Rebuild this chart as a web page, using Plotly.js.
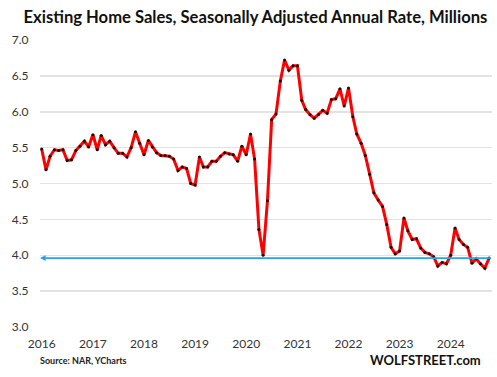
<!DOCTYPE html>
<html>
<head>
<meta charset="utf-8">
<script src="https://cdn.plot.ly/plotly-3.0.1.min.js"></script>
<style>html,body{margin:0;padding:0;background:#fff;}#chart{width:497px;height:377px;}</style>
</head>
<body>
<div id="chart"></div>
<script>
// Existing home sales, SAAR, millions (Jan 2016 - Oct 2024)
var startYear = 2016;
var sales2016 = [5.48, 5.19, 5.38, 5.47, 5.46, 5.47, 5.32, 5.33, 5.46, 5.52, 5.59, 5.51];
var sales2017 = [5.68, 5.47, 5.67, 5.54, 5.59, 5.50, 5.42, 5.42, 5.37, 5.50, 5.72, 5.56];
var sales2018 = [5.40, 5.60, 5.51, 5.43, 5.39, 5.39, 5.38, 5.34, 5.18, 5.23, 5.21, 5.00];
var sales2019 = [4.98, 5.37, 5.23, 5.23, 5.31, 5.31, 5.38, 5.43, 5.41, 5.40, 5.31, 5.52];
var sales2020 = [5.40, 5.69, 5.34, 4.36, 4.00, 4.76, 5.89, 5.97, 6.43, 6.72, 6.58, 6.64];
var sales2021 = [6.64, 6.16, 6.03, 5.96, 5.91, 5.96, 6.02, 5.98, 6.17, 6.18, 6.32, 6.08];
var sales2022 = [6.33, 5.93, 5.69, 5.56, 5.39, 5.13, 4.87, 4.77, 4.68, 4.43, 4.11, 4.02];
var sales2023 = [4.06, 4.52, 4.34, 4.22, 4.23, 4.10, 4.04, 4.02, 3.98, 3.85, 3.90, 3.88];
var sales2024 = [4.00, 4.38, 4.22, 4.15, 4.11, 3.89, 3.95, 3.88, 3.82, 3.96];
var refLevel = 3.96;
var yearLabels = ['2016','2017','2018','2019','2020','2021','2022','2023','2024'];
var yTicks = [3.0, 3.5, 4.0, 4.5, 5.0, 5.5, 6.0, 6.5, 7.0];

var values = [].concat(sales2016, sales2017, sales2018, sales2019, sales2020,
                       sales2021, sales2022, sales2023, sales2024);
var dates = values.map(function(v, i) {
  var y = startYear + Math.floor(i / 12);
  var m = (i % 12) + 1;
  return y + '-' + (m < 10 ? '0' + m : m) + '-01';
});
var yearTickVals = yearLabels.map(function(y) { return y + '-01-01'; });
var xStart = '2015-12-20', xEnd = '2024-10-22';

var trace = {
  x: dates, y: values, type: 'scatter', mode: 'lines+markers',
  line: {color: '#ff0000', width: 3},
  marker: {color: '#111111', size: 3},
  hoverinfo: 'x+y'
};

var layout = {
  width: 497, height: 377,
  margin: {l: 40, r: 5, t: 40, b: 50},
  paper_bgcolor: '#ffffff', plot_bgcolor: '#ffffff',
  showlegend: false,
  font: {family: 'Lato, "Noto Sans", sans-serif', color: '#333333'},
  title: {
    text: '<b>Existing Home Sales, Seasonally Adjusted Annual Rate, Millions</b>',
    font: {family: 'Lato, sans-serif', size: 16.6, color: '#111111'},
    x: 0.514, xanchor: 'center', xref: 'container', y: 0.955, yanchor: 'middle'
  },
  xaxis: {
    type: 'date', range: [xStart, xEnd],
    tickvals: yearTickVals, ticktext: yearLabels,
    showgrid: false, zeroline: false, showline: false,
    ticks: 'outside', ticklen: 6, tickcolor: 'rgba(0,0,0,0)',
    tickfont: {family: 'Lato, sans-serif', size: 12, color: '#333333'}
  },
  yaxis: {
    range: [3.0, 7.0], tickvals: yTicks, tickformat: '.1f',
    showgrid: true, gridcolor: '#e2e2e2', gridwidth: 1.5,
    zeroline: false, showline: false,
    ticks: 'outside', ticklen: 8, tickcolor: 'rgba(0,0,0,0)',
    tickfont: {family: 'Lato, sans-serif', size: 12, color: '#333333'}
  },
  annotations: [
    {
      xref: 'x', yref: 'y', axref: 'x', ayref: 'y',
      x: xStart, y: refLevel, ax: xEnd, ay: refLevel,
      text: '', showarrow: true, arrowhead: 2, arrowsize: 0.7,
      arrowwidth: 1.6, arrowcolor: '#29a3e6', standoff: 0, startstandoff: 0
    },
    {
      xref: 'paper', yref: 'paper', x: -0.004, y: -0.118, xanchor: 'left', yanchor: 'middle',
      text: '<b>Source: NAR, YCharts</b>', showarrow: false,
      font: {family: 'Lato, sans-serif', size: 9, color: '#222222'}
    },
    {
      xref: 'paper', yref: 'paper', x: 0.98, y: -0.115, xanchor: 'right', yanchor: 'middle',
      text: '<b>WOLFSTREET.com</b>', showarrow: false,
      font: {family: 'Lato, sans-serif', size: 13, color: '#111111'}
    }
  ]
};

Plotly.newPlot('chart', [trace], layout, {displayModeBar: false, staticPlot: true});
</script>
</body>
</html>
